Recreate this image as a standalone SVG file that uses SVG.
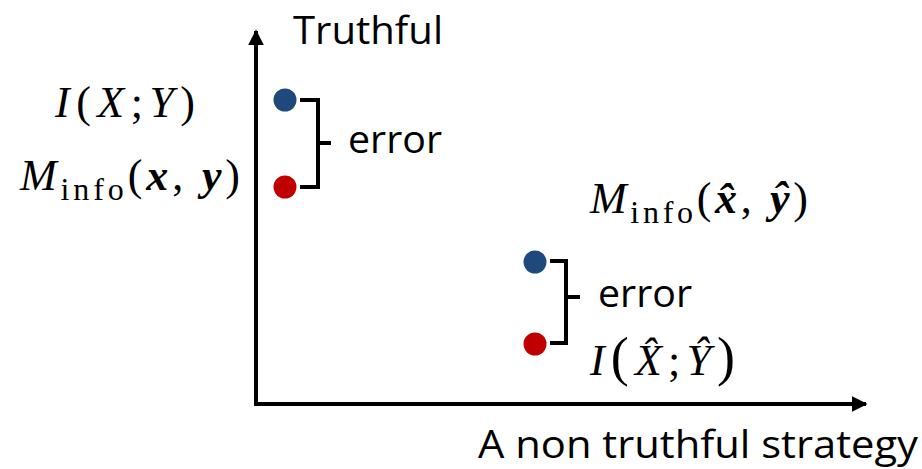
<svg xmlns="http://www.w3.org/2000/svg" width="922" height="469" viewBox="0 0 922 469">
<style>
.lbl{font-family:"Open Sans","Noto Sans",sans-serif;font-size:38px;fill:#000}
.m{font-family:"Liberation Serif","DejaVu Serif",serif;font-size:44px;fill:#000}
.i{font-style:italic}
.b{font-weight:bold;font-style:italic}
.ax{stroke:#000;stroke-width:4;fill:none}
.br{stroke:#000;stroke-width:4;fill:none;stroke-linejoin:miter}
.blue{fill:#1f497d}
.red{fill:#c00000}
</style>
<defs>
<marker id="ah" viewBox="0 0 10 10" refX="9" refY="5" markerWidth="4" markerHeight="4" orient="auto" markerUnits="strokeWidth">
<path d="M0,0 L10,5 L0,10 Z" fill="#000"/>
</marker>
</defs>
<g id="connectors">
<path class="ax" d="M256,404 L256,31" marker-end="url(#ah)"/>
<path class="ax" d="M254,404 L866,404" marker-end="url(#ah)"/>
<path class="br" d="M300,100 L318,100 L318,187 L300,187 M318,143 L331,143"/>
<path class="br" d="M550,261 L566,261 L566,343 L550,343 M566,297 L580,297"/>
</g>
<g id="axis-labels">
<text class="lbl" x="293" y="44" textLength="150" lengthAdjust="spacingAndGlyphs">Truthful</text>
<text class="lbl" x="478" y="458" textLength="440" lengthAdjust="spacingAndGlyphs">A non truthful strategy</text>
</g>
<g id="truthful-pair">
<circle class="blue" cx="285" cy="100" r="11.5"/>
<circle class="red" cx="285" cy="187" r="11.5"/>
<text class="lbl" x="348" y="153" textLength="94" lengthAdjust="spacingAndGlyphs">error</text>
<text class="m" x="55" y="117" textLength="140" lengthAdjust="spacing"><tspan class="i">I</tspan>(<tspan class="i">X</tspan>;<tspan class="i">Y</tspan>)</text>
<text class="m" x="20" y="190" textLength="220" lengthAdjust="spacing"><tspan class="i">M</tspan><tspan font-size="32" dy="10">info</tspan><tspan dy="-10">(</tspan><tspan class="b">x</tspan>, <tspan class="b">y</tspan>)</text>
</g>
<g id="nontruthful-pair">
<circle class="blue" cx="535" cy="262" r="11.5"/>
<circle class="red" cx="535" cy="344" r="11.5"/>
<text class="lbl" x="598" y="307" textLength="94" lengthAdjust="spacingAndGlyphs">error</text>
<text class="m" x="590" y="213" textLength="218" lengthAdjust="spacing"><tspan class="i">M</tspan><tspan font-size="32" dy="10">info</tspan><tspan dy="-10">(</tspan><tspan class="b">x̂</tspan>, <tspan class="b">ŷ</tspan>)</text>
<text class="m" x="590" y="375" textLength="145" lengthAdjust="spacing"><tspan class="i">I</tspan><tspan font-size="54">(</tspan><tspan class="i">X̂</tspan>;<tspan class="i">Ŷ</tspan><tspan font-size="54">)</tspan></text>
</g>
</svg>
